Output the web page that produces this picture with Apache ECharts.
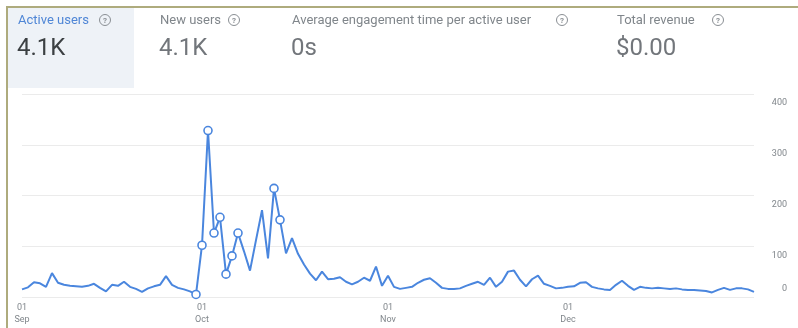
<!DOCTYPE html>
<html>
<head>
<meta charset="utf-8">
<script src="https://cdn.jsdelivr.net/npm/echarts@6/dist/echarts.min.js"></script>
<style>
html,body{margin:0;padding:0;background:#fff;}
#chart{width:798px;height:328px;}
</style>
</head>
<body>
<div id="chart"></div>
<script>
// ---- data ----
var monthNames = ['Sep', 'Oct', 'Nov', 'Dec', 'Jan'];
var monthDays = [30, 31, 30, 31, 1];
var activeUsers = [
  15,19,29,27,20,47,28,24,22,21,20,22,26,18,11,24,22,30,20,16,10,17,21,24,41,24,18,15,11,5,
  102,328,126,157,45,81,126,90,52,112,171,76,214,152,86,116,85,64,46,33,50,35,36,39,30,25,30,38,32,60,22,
  42,20,16,18,20,28,34,37,28,18,16,16,17,22,26,30,24,38,20,30,50,52,34,21,35,42,26,22,17,18,
  20,21,28,29,20,17,15,14,24,32,22,14,20,18,17,18,17,16,17,15,14,14,13,12,9,14,18,14,17,17,15,
  10
];
var anomalyIdx = [29, 30, 31, 32, 33, 34, 35, 36, 42, 43];
var yTicks = [0, 100, 200, 300, 400];
var tabTitles = ['Active users', 'New users', 'Average engagement time per active user', 'Total revenue'];
var tabValues = ['4.1K', '4.1K', '0s', '$0.00'];

// categories (dates)
var categories = [];
for (var m = 0; m < monthNames.length; m++) {
  for (var d = 1; d <= monthDays[m]; d++) {
    categories.push((d < 10 ? '0' + d : '' + d) + ' ' + monthNames[m]);
  }
}

var FONT = 'Roboto, "Noto Sans", sans-serif';
var tabX = [18, 160, 292, 617];
var iconX = [105, 234, 562, 718];

var graphics = [
  { type: 'rect', silent: true, z: 0, shape: { x: 8, y: 8, width: 126, height: 80 }, style: { fill: '#eef2f7' } },
  { type: 'rect', silent: true, z: 10, shape: { x: 6, y: 6, width: 2, height: 322 }, style: { fill: '#aeab7d' } },
  { type: 'rect', silent: true, z: 10, shape: { x: 6, y: 6, width: 792, height: 2 }, style: { fill: '#aeab7d' } }
];

tabTitles.forEach(function (t, i) {
  var col = i === 0 ? '#4f86d6' : '#80868b';
  graphics.push({
    type: 'text', silent: true, z: 5,
    style: { text: t, x: tabX[i], y: 21, font: '13px ' + FONT, fill: col, align: 'left', verticalAlign: 'middle' }
  });
  graphics.push({
    type: 'circle', silent: true, z: 5,
    shape: { cx: iconX[i], cy: 20, r: 5.5 },
    style: { fill: 'none', stroke: '#8a8f94', lineWidth: 1 }
  });
  graphics.push({
    type: 'text', silent: true, z: 5,
    style: { text: '?', x: iconX[i], y: 20.5, font: 'bold 8px ' + FONT, fill: '#8a8f94', align: 'center', verticalAlign: 'middle' }
  });
  graphics.push({
    type: 'text', silent: true, z: 5,
    style: { text: tabValues[i], x: tabX[i] - 1, y: 49, font: '24px ' + FONT, fill: i === 0 ? '#3c4043' : '#72767b', align: 'left', verticalAlign: 'middle' }
  });
});

var seriesData = activeUsers.map(function (v, i) {
  if (anomalyIdx.indexOf(i) >= 0) {
    return { value: v, symbol: 'circle', symbolSize: 8 };
  }
  return { value: v, symbol: 'none' };
});

var chart = echarts.init(document.getElementById('chart'), null, { renderer: 'canvas' });
chart.setOption({
  animation: false,
  backgroundColor: '#ffffff',
  graphic: graphics,
  grid: { left: 22, right: 44, top: 94, bottom: 31, containLabel: false },
  xAxis: {
    type: 'category',
    data: categories,
    boundaryGap: false,
    axisLine: { show: false },
    axisTick: { show: false },
    splitLine: { show: false },
    axisLabel: {
      interval: function (idx, val) { return val.slice(0, 2) === '01' && idx < categories.length - 1; },
      formatter: function (val) { return val.replace(' ', '\n'); },
      color: '#80868b',
      fontSize: 9,
      lineHeight: 12,
      margin: 5,
      fontFamily: FONT
    }
  },
  yAxis: {
    type: 'value',
    position: 'right',
    min: yTicks[0],
    max: yTicks[yTicks.length - 1],
    interval: 100,
    axisLine: { show: false },
    axisTick: { show: false },
    splitLine: { show: true, lineStyle: { color: '#ebebeb', width: 1 } },
    axisLabel: {
      align: 'right',
      margin: 33,
      color: '#80868b',
      fontSize: 9,
      fontFamily: FONT,
      formatter: function (v) { return v === 0 ? '{z|0}' : '{n|' + v + '}'; },
      rich: {
        z: { fontSize: 9, color: '#80868b', padding: [0, 0, 16, 0] },
        n: { fontSize: 9, color: '#80868b', padding: [18, 0, 0, 0] }
      }
    }
  },
  series: [{
    type: 'line',
    data: seriesData,
    showSymbol: true,
    showAllSymbol: true,
    symbol: 'none',
    lineStyle: { color: '#4a86de', width: 2 },
    itemStyle: { color: '#ffffff', borderColor: '#4a86de', borderWidth: 1.6 },
    emphasis: { disabled: true }
  }]
});
</script>
</body>
</html>
